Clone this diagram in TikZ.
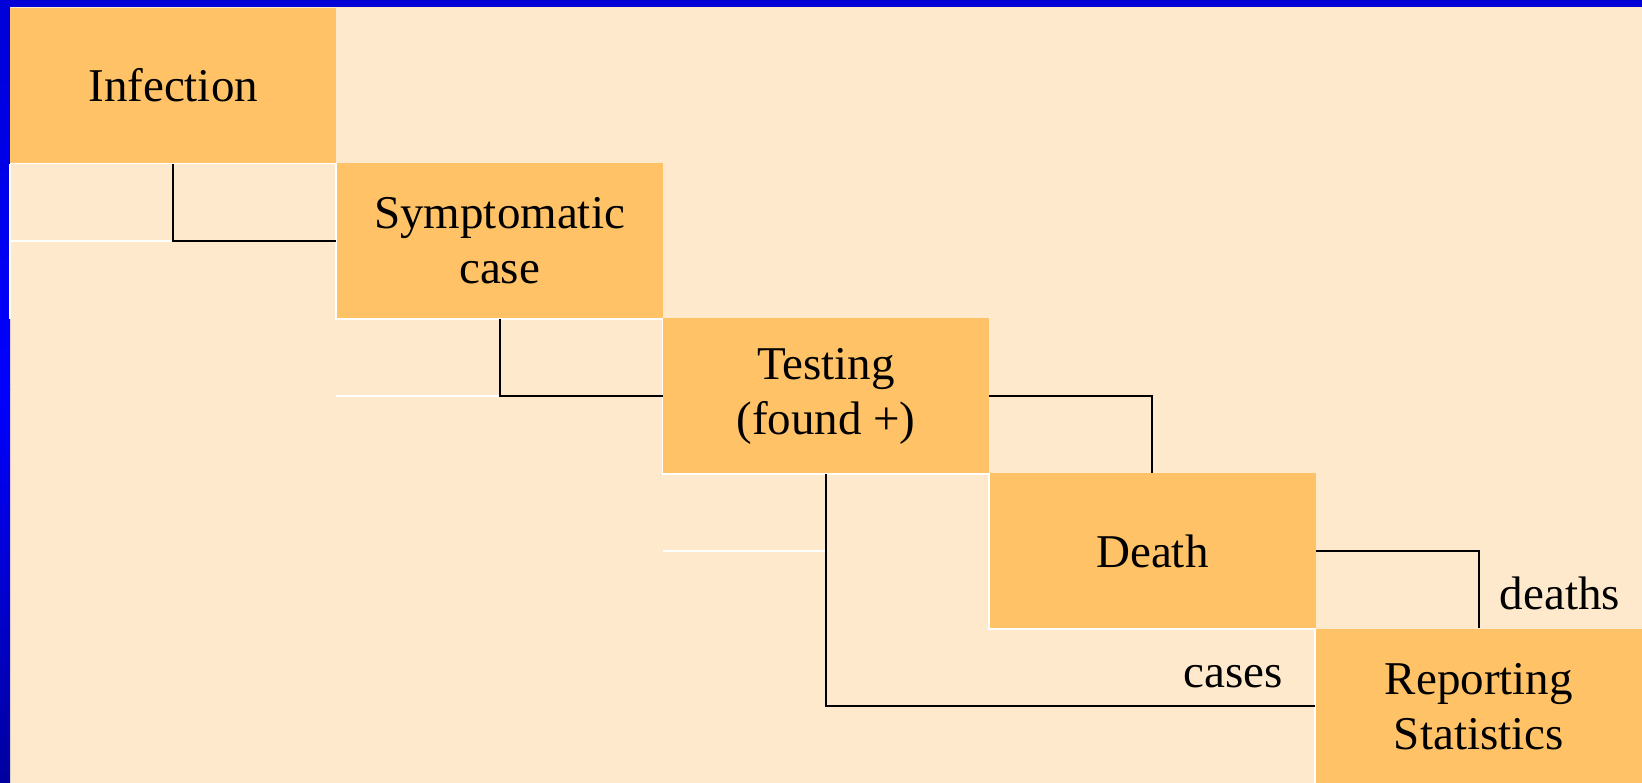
\documentclass[tikz,border=0pt]{standalone}
\usepackage{fontspec}
\setmainfont{Liberation Serif}
\definecolor{cream}{RGB}{255,233,204}
\definecolor{boxorange}{RGB}{255,194,102}
\definecolor{bartop}{RGB}{0,0,215}
\definecolor{barmid}{RGB}{0,0,255}
\definecolor{barbot}{RGB}{0,0,160}
\begin{document}
\begin{tikzpicture}[x=1pt,y=-1pt,
  stagebox/.style={fill=boxorange, draw=none, inner sep=0pt, minimum width=326.5pt, minimum height=155.5pt,
    align=center, font=\fontsize{47}{55}\selectfont},
  lbl/.style={inner sep=0pt, anchor=base, font=\fontsize{47}{55}\selectfont},
  link/.style={draw=black, line width=2pt},
  gridline/.style={draw=white, line width=1.8pt}]
\useasboundingbox (0,0) rectangle (1642,783);
\fill[cream] (0,0) rectangle (1642,783);
% blue frame
\fill[bartop] (0,0) rectangle (1642,7);
\shade[top color=bartop, bottom color=barmid, shading angle=0] (0,0) rectangle (10,390);
\shade[top color=barmid, bottom color=barbot] (0,390) rectangle (10,783);
% boxes
\node[stagebox] (inf)   at (173.2,85.6)  {Infection};
\node[stagebox] (sym)   at (499.6,240.8) {Symptomatic\\case};
\node[stagebox] (test)  at (826.0,396.0) {Testing\\(found +)};
\node[stagebox] (death) at (1152.4,551.2) {Death};
\node[stagebox] (rep)   at (1478.8,706.4) {Reporting\\Statistics};
% white grid lines
\draw[gridline] (inf.south west) -- (inf.south east);
\draw[gridline] (inf.south west) -- (inf.south west |- sym.south);
\draw[gridline] (inf.south west |- sym.west) -- (inf.south |- sym.west);
\draw[gridline] (sym.north west) -- (sym.south west) -- (sym.south east);
\draw[gridline] (sym.south west |- test.west) -- (sym.south |- test.west);
\draw[gridline] (test.north west) -- (test.south west) -- (test.south east);
\draw[gridline] (test.south west |- death.west) -- (test.south |- death.west);
\draw[gridline] (death.north west) -- (death.south west) -- (death.south east);
\draw[gridline] (rep.north west) -- (rep.south west);
% connectors
\draw[link] (inf.south) |- (sym.west);
\draw[link] (sym.south) |- (test.west);
\draw[link] (test.east) -| (death.north);
\draw[link] (test.south) |- (rep.west);
\draw[link] (death.east) -| (rep.north);
% labels
\node[lbl] (cases) at (1233,687) {cases};
\node[lbl] (deaths) at (1560,609) {deaths};
\end{tikzpicture}
\end{document}
